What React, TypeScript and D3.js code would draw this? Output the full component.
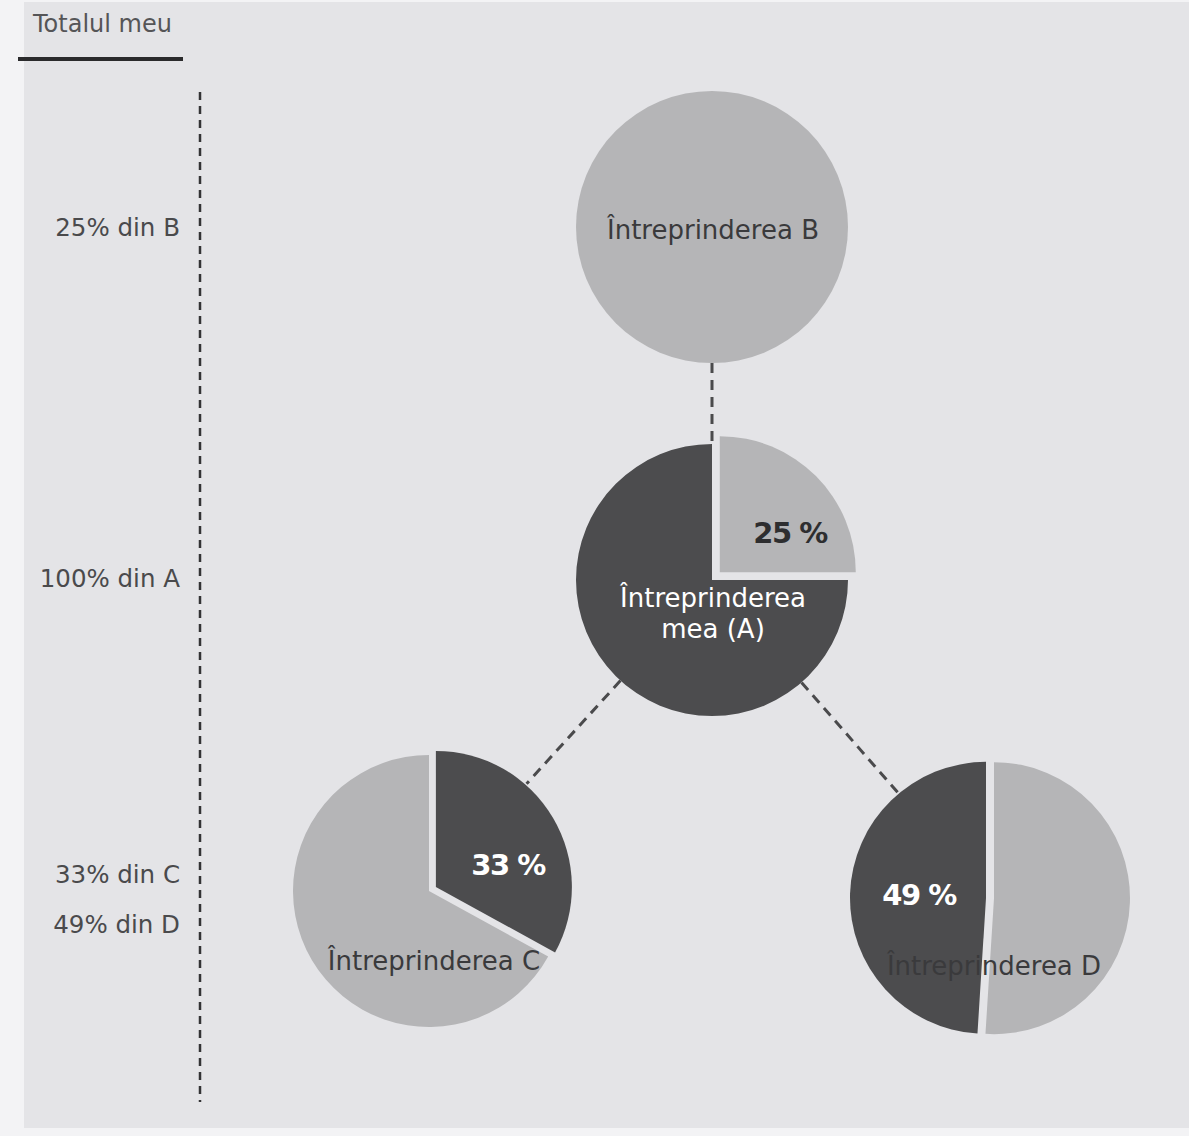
import React from "react";
import * as d3 from "d3";

// ---- data ----
const titleText = "Totalul meu";
const sideLabels = ["25% din B", "100% din A", "33% din C", "49% din D"];
const sideLabelY = [236, 587, 883, 933];

const pieKeys = ["B", "A", "C", "D"];
const sharesB = [100];
const tonesB = ["light"];
const sharesA = [25, 75];
const tonesA = ["light", "dark"];
const sharesC = [33, 67];
const tonesC = ["dark", "light"];
const sharesD = [51, 49];
const tonesD = ["light", "dark"];

const pctLabels = ["", "25 %", "33 %", "49 %"];
const nameLinesB = ["Întreprinderea B"];
const nameLinesA = ["Întreprinderea", "mea (A)"];
const nameLinesC = ["Întreprinderea C"];
const nameLinesD = ["Întreprinderea D"];

// links between companies (from -> to)
const links = [
  ["B", "A"],
  ["A", "C"],
  ["A", "D"],
];

// ---- layout ----
const W = 1189;
const H = 1136;
const R = 136;
const FONT = "'DejaVu Sans', 'Open Sans', sans-serif";
const COL_BG = "#e4e4e7";
const COL_EDGE = "#f3f3f5";
const COL_LIGHT = "#b5b5b7";
const COL_DARK = "#4c4c4e";
const COL_TEXT = "#3a3a3c";

const centers: Record<string, [number, number]> = {
  B: [712, 227],
  A: [712, 580],
  C: [429, 891],
  D: [990, 898],
};
const explode: Record<string, number[]> = {
  B: [0],
  A: [11, 0],
  C: [8, 0],
  D: [4, 4],
};
const pctOffset: Record<string, [number, number]> = {
  A: [78, -37],
  C: [79, -16],
  D: [-71, 7],
};
const pctColor: Record<string, string> = { A: "#2e2e30", C: "#ffffff", D: "#ffffff" };
const namePos: Record<string, { x: number; y: number; fill: string }> = {
  B: { x: 713, y: 239, fill: COL_TEXT },
  A: { x: 713, y: 607, fill: "#ffffff" },
  C: { x: 434, y: 970, fill: COL_TEXT },
  D: { x: 994, y: 975, fill: COL_TEXT },
};
const linkPad: Record<string, [number, number]> = {
  "B-A": [0, 0],
  "A-C": [0, 9],
  "A-D": [0, 4],
};

const sharesOf: Record<string, number[]> = { B: sharesB, A: sharesA, C: sharesC, D: sharesD };
const tonesOf: Record<string, string[]> = { B: tonesB, A: tonesA, C: tonesC, D: tonesD };
const namesOf: Record<string, string[]> = { B: nameLinesB, A: nameLinesA, C: nameLinesC, D: nameLinesD };

const pieGen = d3.pie<number>().sort(null).value((d) => d);
const arcGen = d3.arc<d3.PieArcDatum<number>>().innerRadius(0).outerRadius(R);

function Pie({ k }: { k: string }) {
  const [cx, cy] = centers[k];
  const arcs = pieGen(sharesOf[k]);
  return (
    <g transform={`translate(${cx},${cy})`}>
      {arcs.map((a, i) => {
        const mid = (a.startAngle + a.endAngle) / 2;
        const e = explode[k][i] || 0;
        const dx = Math.sin(mid) * e;
        const dy = -Math.cos(mid) * e;
        const tone = tonesOf[k][i];
        if (a.endAngle - a.startAngle >= 2 * Math.PI - 1e-6) {
          return <circle key={i} r={R} fill={tone === "dark" ? COL_DARK : COL_LIGHT} />;
        }
        return (
          <path
            key={i}
            d={arcGen(a) || ""}
            transform={`translate(${dx},${dy})`}
            fill={tone === "dark" ? COL_DARK : COL_LIGHT}
          />
        );
      })}
    </g>
  );
}

export default function App() {
  return (
    <div style={{ position: "absolute", left: 0, top: 0 }}>
      <svg width={W} height={H} style={{ display: "block" }}>
        <rect x={0} y={0} width={W} height={H} fill={COL_EDGE} />
        <rect x={24} y={2} width={W - 24} height={1126} fill={COL_BG} />

        {/* title */}
        <text x={33} y={32} fontFamily={FONT} fontSize={24} fill="#555557">
          {titleText}
        </text>
        <line x1={18} x2={183} y1={59} y2={59} stroke="#2a2a2c" strokeWidth={4} />

        {/* left dashed axis */}
        <line x1={200} x2={200} y1={92} y2={1102} stroke="#333335" strokeWidth={2.5} strokeDasharray="8 6" />
        {sideLabels.map((s, i) => (
          <text
            key={s}
            x={180}
            y={sideLabelY[i]}
            textAnchor="end"
            fontFamily={FONT}
            fontSize={24.5}
            fill="#4a4a4c"
          >
            {s}
          </text>
        ))}

        {/* links */}
        {links.map(([from, to]) => {
          const [x1, y1] = centers[from];
          const [x2, y2] = centers[to];
          const dxx = x2 - x1;
          const dyy = y2 - y1;
          const d = Math.hypot(dxx, dyy);
          const ux = dxx / d;
          const uy = dyy / d;
          const pad = linkPad[`${from}-${to}`];
          const s0 = R + pad[0];
          const s1 = d - R - pad[1];
          return (
            <line
              key={`${from}-${to}`}
              x1={x1 + ux * s0}
              y1={y1 + uy * s0}
              x2={x1 + ux * s1}
              y2={y1 + uy * s1}
              stroke="#4a4a4c"
              strokeWidth={3}
              strokeDasharray="10 7"
            />
          );
        })}

        {/* pies */}
        {pieKeys.map((k) => (
          <Pie key={k} k={k} />
        ))}

        {/* percent labels */}
        {pieKeys.map((k, i) =>
          pctLabels[i] ? (
            <text
              key={`p${k}`}
              x={centers[k][0] + pctOffset[k][0]}
              y={centers[k][1] + pctOffset[k][1]}
              textAnchor="middle"
              fontFamily={FONT}
              fontWeight={700}
              fontSize={29}
              letterSpacing={-1.5}
              fill={pctColor[k]}
            >
              {pctLabels[i]}
            </text>
          ) : null
        )}

        {/* names */}
        {pieKeys.map((k) => (
          <text
            key={`n${k}`}
            x={namePos[k].x}
            y={namePos[k].y}
            textAnchor="middle"
            fontFamily={FONT}
            fontSize={26}
            fill={namePos[k].fill}
          >
            {namesOf[k].map((line, j) => (
              <tspan key={j} x={namePos[k].x} dy={j === 0 ? 0 : 31}>
                {line}
              </tspan>
            ))}
          </text>
        ))}
      </svg>
    </div>
  );
}
